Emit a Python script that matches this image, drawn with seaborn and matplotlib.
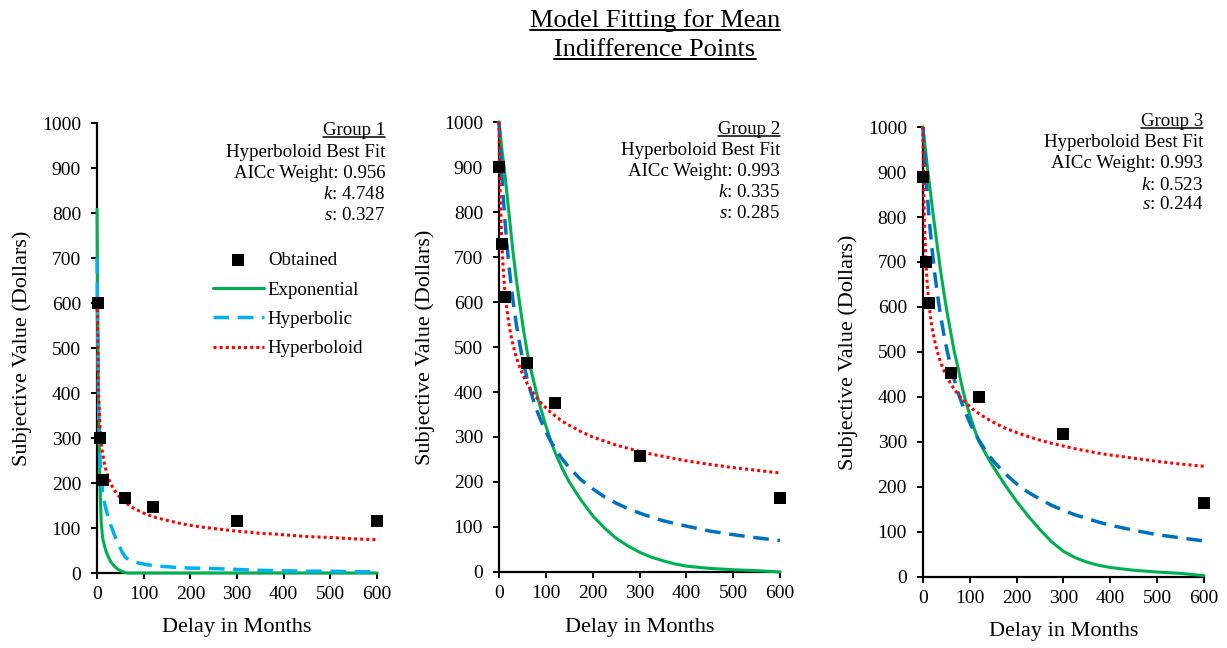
import matplotlib
matplotlib.use("Agg")
import matplotlib.pyplot as plt
import seaborn as sns
import pandas as pd
from matplotlib.lines import Line2D
from matplotlib.transforms import IdentityTransform

# ---------------- data ----------------
delays = [1, 6, 12, 60, 120, 300, 600]
obtained_g1 = [600, 300, 206, 166, 147, 115, 116]
obtained_g2 = [900, 730, 612, 464, 376, 258, 164]
obtained_g3 = [890, 699, 608, 454, 401, 318, 165]

curve_x = [0, 1, 3, 6, 9, 12, 16, 20, 25, 30, 37, 45, 52, 60, 67, 75, 82, 90,
           100, 110, 120, 135, 150, 175, 200, 225, 250, 275, 300, 325, 350, 375,
           400, 450, 500, 550, 600]

expo_g1 = [808, 640, 400, 200, 110, 78, 60, 46, 34, 24, 15, 8, 4, 1, 0, 0, 0, 0,
           0, 0, 0, 0, 0, 0, 0, 0, 0, 0, 0, 0, 0, 0,
           0, 0, 0, 0, 0]
hypb_g1 = [700, 560, 380, 260, 210, 180, 156, 138, 120, 105, 85, 66, 50, 36, 30, 26, 24, 22,
           20, 18, 17, 15, 14, 12, 11, 10.5, 10, 9, 8, 7, 6, 5.5,
           5, 4, 4, 3, 3]
hbld_g1 = [600, 564, 410, 331, 291, 265, 242, 225, 209, 197, 184, 173, 165, 157, 152, 146, 142, 138,
           133, 129, 125, 121, 117, 111, 106, 102, 99, 96, 93, 91, 88, 87,
           85, 81, 79, 76, 74]

expo_g2 = [1000, 990, 970, 940, 915, 890, 850, 810, 760, 710, 650, 590, 540, 490, 455, 420, 390, 360,
           325, 293, 265, 230, 200, 160, 125, 98, 75, 58, 44, 33, 25, 18,
           13, 8, 5, 3, 0]
hypb_g2 = [1000, 978, 938, 883, 834, 790, 739, 693, 644, 601, 550, 502, 465, 430, 403, 376, 356, 335,
           312, 291, 274, 251, 232, 205, 185, 167, 153, 141, 131, 122, 114, 108,
           102, 91, 83, 76, 70]
hbld_g2 = [1000, 921, 820, 730, 673, 631, 590, 559, 528, 504, 477, 453, 436, 419, 407, 395, 385, 375,
           365, 355, 347, 335, 326, 312, 300, 291, 282, 275, 268, 262, 257, 252,
           247, 239, 232, 226, 220]

expo_g3 = [1000, 990, 970, 945, 915, 890, 855, 820, 780, 740, 685, 630, 585, 540, 500, 465, 430, 395,
           360, 328, 300, 272, 245, 205, 168, 135, 105, 78, 57, 43, 33, 26,
           21, 15, 11, 8, 3]
hypb_g3 = [1000, 981, 946, 897, 853, 813, 765, 723, 676, 635, 585, 537, 501, 465, 438, 410, 389, 367,
           343, 322, 303, 279, 258, 230, 207, 188, 173, 159, 148, 138, 130, 122,
           115, 104, 94, 87, 80]
hbld_g3 = [1000, 903, 794, 707, 654, 616, 579, 551, 525, 503, 479, 458, 443, 428, 417, 406, 397, 389,
           379, 370, 363, 353, 344, 331, 321, 312, 304, 297, 291, 285, 280, 275,
           271, 264, 257, 251, 246]

series_labels = ["Obtained", "Exponential", "Hyperbolic", "Hyperboloid"]
group_titles = ["Group 1", "Group 2", "Group 3"]
fit_lines = [
    ["Hyperboloid Best Fit", "AICc Weight: 0.956", r"$k$: 4.748", r"$s$: 0.327"],
    ["Hyperboloid Best Fit", "AICc Weight: 0.993", r"$k$: 0.335", r"$s$: 0.285"],
    ["Hyperboloid Best Fit", "AICc Weight: 0.993", r"$k$: 0.523", r"$s$: 0.244"],
]
title_lines = ["Model Fitting for Mean", "Indifference Points"]
x_label = "Delay in Months"
y_label = "Subjective Value (Dollars)"
x_ticks = [0, 100, 200, 300, 400, 500, 600]
y_ticks = [0, 100, 200, 300, 400, 500, 600, 700, 800, 900, 1000]

# ---------------- style ----------------
sns.set_theme(style="ticks")
plt.rcParams['font.family'] = ['Liberation Serif', 'DejaVu Serif']
plt.rcParams['mathtext.fontset'] = 'custom'
plt.rcParams['mathtext.rm'] = 'Liberation Serif'
plt.rcParams['mathtext.it'] = 'Liberation Serif:italic'
for key in ['text.color', 'axes.labelcolor', 'xtick.color', 'ytick.color', 'axes.edgecolor']:
    plt.rcParams[key] = 'black'

GREEN = "#00B050"
RED = "#FF0000"
BLUES = ["#00B0F0", "#0070C0", "#0070C0"]

fig = plt.figure(figsize=(12.27, 6.48), dpi=100)

positions = [
    [0.0791, 0.1157, 0.2282, 0.6944],
    [0.4067, 0.1173, 0.2290, 0.6944],
    [0.7522, 0.1096, 0.2290, 0.6944],
]
ylabel_x = [-0.268, -0.263, -0.267]
xlabel_y = [-0.122, -0.124, -0.122]
text_x = [1.03, 1.0, 0.997]
text_baselines = [
    [0.9733, 0.9256, 0.8789, 0.8322, 0.7856],
    [0.9744, 0.9278, 0.8811, 0.8344, 0.7878],
    [1.0022, 0.9556, 0.9089, 0.8611, 0.8167],
]

obtained_all = [obtained_g1, obtained_g2, obtained_g3]
expo_all = [expo_g1, expo_g2, expo_g3]
hypb_all = [hypb_g1, hypb_g2, hypb_g3]
hbld_all = [hbld_g1, hbld_g2, hbld_g3]

underline_targets = []
FS = 14
FS_TXT = 13.6

for i in range(3):
    ax = fig.add_axes(positions[i])
    dfc = pd.DataFrame({"x": curve_x, "expo": expo_all[i],
                        "hypb": hypb_all[i], "hbld": hbld_all[i]})
    sns.lineplot(data=dfc, x="x", y="expo", ax=ax, color=GREEN, linewidth=2.2,
                 label=series_labels[1], zorder=3, clip_on=False, errorbar=None)
    sns.lineplot(data=dfc, x="x", y="hypb", ax=ax, color=BLUES[i], linewidth=2.5,
                 linestyle=(0, (4.5, 2.5)), label=series_labels[2], zorder=3,
                 clip_on=False, errorbar=None)
    sns.lineplot(data=dfc, x="x", y="hbld", ax=ax, color=RED, linewidth=2.2,
                 linestyle=(0, (1, 1)), label=series_labels[3], zorder=3,
                 clip_on=False, errorbar=None)
    dfo = pd.DataFrame({"x": delays, "y": obtained_all[i]})
    sns.scatterplot(data=dfo, x="x", y="y", ax=ax, marker="s", s=70, color="black",
                    linewidth=0, label=series_labels[0], zorder=4, clip_on=False)

    ax.set_xlim(0, 600)
    ax.set_ylim(0, 1000)
    ax.set_xticks(x_ticks)
    ax.set_yticks(y_ticks)
    sns.despine(ax=ax)
    for sp in ['left', 'bottom']:
        ax.spines[sp].set_linewidth(1.6)
        ax.spines[sp].set_zorder(2.5)
    ax.tick_params(axis='both', direction='out', length=4.5, width=1.4,
                   labelsize=FS)
    ax.tick_params(axis='y', pad=7)
    ax.tick_params(axis='x', pad=5)

    ax.set_xlabel(x_label, fontsize=16, va='center')
    ax.set_ylabel(y_label, fontsize=16, va='center')
    ax.xaxis.set_label_coords(0.5, xlabel_y[i])
    ax.yaxis.set_label_coords(ylabel_x[i], 0.5)

    lines = [group_titles[i]] + fit_lines[i]
    for j, txt in enumerate(lines):
        t = ax.text(text_x[i], text_baselines[i][j], txt, transform=ax.transAxes,
                    ha='right', va='baseline', fontsize=FS_TXT)
        if j == 0:
            underline_targets.append((t, 2.0, 1.1))

    if i == 0:
        h, l = ax.get_legend_handles_labels()
        order = [l.index(s) for s in series_labels]
        ax.legend([h[k] for k in order], [l[k] for k in order],
                  loc='upper left', bbox_to_anchor=(0.414, 0.713),
                  frameon=False, borderpad=0, borderaxespad=0,
                  handlelength=2.7, handletextpad=0.2, labelspacing=0.64,
                  fontsize=FS_TXT)
    else:
        leg = ax.get_legend()
        if leg is not None:
            leg.remove()

# title lines (underlined)
title_baselines = [1 - 27 / 648, 1 - 56 / 648]
for k, txt in enumerate(title_lines):
    t = fig.text(0.5338, title_baselines[k], txt, ha='center', va='baseline',
                 fontsize=19)
    underline_targets.append((t, 3.0, 1.4))

fig.canvas.draw()
renderer = fig.canvas.get_renderer()
for t, off, lw in underline_targets:
    bb = t.get_window_extent(renderer=renderer)
    bx, by = t.get_transform().transform(t.get_position())
    fig.add_artist(Line2D([bb.x0, bb.x1], [by - off, by - off],
                          transform=IdentityTransform(), color='black', lw=lw))

fig.savefig("out.png", dpi=100)
